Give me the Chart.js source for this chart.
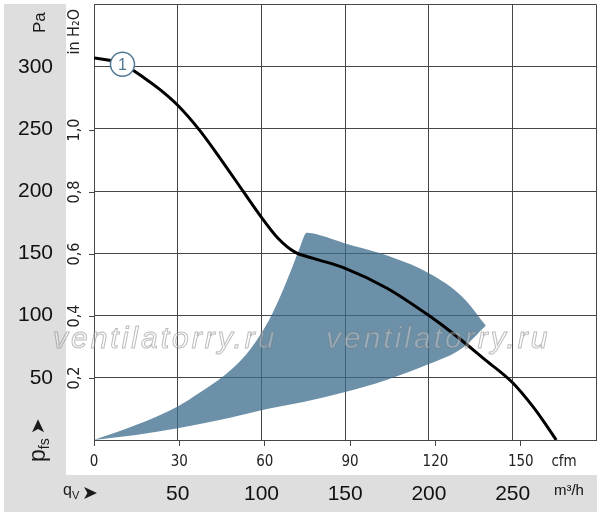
<!DOCTYPE html>
<html lang="en">
<head>
<meta charset="UTF-8">
<title>Fan curve</title>
<script src="https://cdn.jsdelivr.net/npm/chart.js@4.4.1/dist/chart.umd.min.js"></script>
<style>
  html, body { margin: 0; padding: 0; background: #fff; }
</style>
</head>
<body>
<canvas id="chart" width="600" height="516"></canvas>
<script>
// characteristic curve 1: flow (m³/h) -> static pressure (Pa)
const curveFlow = [0, 10, 17, 30, 40, 50, 63, 75, 89, 100, 110, 120, 131, 150, 175, 200, 215, 234, 250, 262, 269, 276];
const curvePa   = [307, 305, 302, 291, 281, 269, 249, 227, 200, 179, 162, 151, 146, 138, 122, 100, 85, 64, 46, 27, 14, 0];

// shaded operating zone: upper and lower edge
const zoneTopFlow    = [0, 25, 50, 63, 77, 91, 104, 113, 119, 123, 127, 135, 150, 171, 200, 220, 234];
const zoneTopPa      = [0, 12, 27, 38, 51, 69, 95, 121, 141, 155, 166.5, 164.5, 158, 150, 134, 115, 92];
const zoneBottomFlow = [0, 25, 50, 75, 100, 125, 150, 175, 200, 220, 234];
const zoneBottomPa   = [0, 4, 9.5, 16, 24, 30.5, 38.5, 48.5, 61, 74, 92];

// curve number marker
const markerFlow = [17];
const markerPa   = [302];
const markerText = ['1'];

// tick labels
const paTicks   = [50, 100, 150, 200, 250, 300];
const m3hTicks  = [50, 100, 150, 200, 250];
const cfmTicks  = [0, 30, 60, 90, 120, 150];
const inchTicks = [0.2, 0.4, 0.6, 0.8, 1.0];

const PA_MAX = 350, FLOW_MAX = 300;
const PA_PER_INCH = 249.09, M3H_PER_CFM = 1.699;
const UNIT_M3H = 283.6, UNIT_CFM = 165.2, UNIT_INCH = 1.317;

const SANS = '"Liberation Sans", Arial, sans-serif';
const NARROW = '"DejaVu Sans Condensed", "Liberation Sans", sans-serif';
const GRID = '#474747';
const NONE = 'rgba(0,0,0,0)';

const pts = (xs, ys) => xs.map((x, i) => ({ x, y: ys[i] }));

function fixSize(prop, size) {
    return s => {
        s[prop] = size;
        s.paddingTop = s.paddingBottom = s.paddingLeft = s.paddingRight = 0;
    };
}

function rotText(ctx, x, y, parts) {
    ctx.save();
    ctx.translate(x, y);
    ctx.rotate(-Math.PI / 2);
    let cx = 0;
    for (const p of parts) {
        ctx.font = p.font;
        ctx.fillText(p.text, cx, p.dy || 0);
        cx += ctx.measureText(p.text).width + (p.gap || 0);
    }
    ctx.restore();
}

const decor = {
    id: 'decor',
    beforeDraw(chart) {
        const ctx = chart.ctx;
        const y = chart.scales.y, x = chart.scales.x;
        ctx.save();
        ctx.fillStyle = '#fff';
        ctx.fillRect(0, 0, chart.width, chart.height);
        ctx.fillStyle = '#dedede';
        ctx.fillRect(4, 4, y.right - 4, x.top - 4);
        ctx.fillRect(4, x.top, chart.width - 7, x.bottom - x.top);
        ctx.restore();
    },
    afterDatasetsDraw(chart) {
        const ctx = chart.ctx;
        ctx.save();
        // watermark
        ctx.font = 'italic 30px ' + SANS;
        ctx.letterSpacing = '3px';
        ctx.lineWidth = 1;
        ctx.strokeStyle = 'rgba(120,120,120,0.5)';
        ctx.fillStyle = 'rgba(255,255,255,0.3)';
        for (const wx of [53, 326]) {
            ctx.fillText('ventilatorry.ru', wx, 348);
            ctx.strokeText('ventilatorry.ru', wx, 348);
        }
        ctx.letterSpacing = '0px';
        // curve number
        const el = chart.getDatasetMeta(0).data[0];
        ctx.fillStyle = '#4f7894';
        ctx.font = '16px ' + SANS;
        ctx.textAlign = 'center';
        ctx.textBaseline = 'middle';
        ctx.fillText(markerText[0], el.x, el.y + 1);
        ctx.restore();
    },
    afterDraw(chart) {
        const ctx = chart.ctx;
        ctx.save();
        ctx.fillStyle = '#1a1a1a';
        ctx.textBaseline = 'alphabetic';
        rotText(ctx, 45, 33, [{ text: 'Pa', font: '17px ' + SANS }]);
        rotText(ctx, 45, 462, [
            { text: 'p', font: '23px ' + SANS },
            { text: 'fs', font: '14px ' + SANS, dy: 4, gap: 4 },
            { text: '➤', font: '19px "DejaVu Sans", sans-serif', dy: -1 }
        ]);
        ctx.font = '16px ' + SANS;
        ctx.fillText('q', 63, 495);
        ctx.font = '11px ' + SANS;
        ctx.fillText('V', 72, 499);
        ctx.font = '19px "DejaVu Sans", sans-serif';
        ctx.fillText('➤', 82, 499);
        ctx.restore();
    }
};

new Chart(document.getElementById('chart'), {
    type: 'line',
    data: {
        datasets: [
            {
                type: 'scatter',
                data: pts(markerFlow, markerPa),
                pointRadius: 12,
                pointBackgroundColor: '#fff',
                pointBorderColor: '#4f7894',
                pointBorderWidth: 1.5,
                xAxisID: 'x', yAxisID: 'y'
            },
            {
                data: pts(curveFlow, curvePa),
                borderColor: '#000',
                borderWidth: 3,
                pointRadius: 0,
                cubicInterpolationMode: 'monotone',
                fill: false,
                xAxisID: 'x', yAxisID: 'y'
            },
            {
                data: pts(zoneTopFlow, zoneTopPa),
                borderWidth: 0,
                borderColor: NONE,
                backgroundColor: 'rgba(59,107,139,0.75)',
                pointRadius: 0,
                cubicInterpolationMode: 'monotone',
                fill: '+1',
                xAxisID: 'x', yAxisID: 'y'
            },
            {
                data: pts(zoneBottomFlow, zoneBottomPa),
                borderWidth: 0,
                borderColor: NONE,
                pointRadius: 0,
                cubicInterpolationMode: 'monotone',
                fill: false,
                xAxisID: 'x', yAxisID: 'y'
            }
        ]
    },
    options: {
        responsive: false,
        animation: false,
        devicePixelRatio: 1,
        layout: { autoPadding: false, padding: { left: 0, top: 4.5, right: 3.6, bottom: 4 } },
        plugins: { legend: { display: false }, tooltip: { enabled: false } },
        scales: {
            x: {
                type: 'linear', position: 'bottom', weight: 1, min: 0, max: FLOW_MAX,
                afterBuildTicks: s => { s.ticks = [0].concat(m3hTicks, [UNIT_M3H, FLOW_MAX]).map(v => ({ value: v })); },
                afterFit: fixSize('height', 37),
                grid: { color: c => c.tick && c.tick.value === UNIT_M3H ? NONE : GRID, drawTicks: false },
                border: { display: false },
                ticks: {
                    autoSkip: false, maxRotation: 0, padding: 7, color: '#111',
                    font: c => c.tick && c.tick.value === UNIT_M3H ? { family: SANS, size: 15 } : { family: SANS, size: 21 },
                    callback: v => v === UNIT_M3H ? 'm³/h' : (m3hTicks.includes(v) ? String(v) : '')
                }
            },
            cfm: {
                type: 'linear', position: 'bottom', weight: 0, min: 0, max: FLOW_MAX / M3H_PER_CFM,
                afterBuildTicks: s => { s.ticks = cfmTicks.concat([UNIT_CFM]).map(v => ({ value: v })); },
                afterFit: fixSize('height', 35),
                grid: { drawOnChartArea: false, tickLength: 6, color: GRID, tickColor: c => c.tick && c.tick.value === UNIT_CFM ? NONE : GRID },
                border: { display: true, color: GRID },
                ticks: {
                    autoSkip: false, maxRotation: 0, padding: 7, color: '#222',
                    font: { family: NARROW, size: 15 },
                    callback: v => v === UNIT_CFM ? 'cfm' : String(v)
                }
            },
            y: {
                type: 'linear', position: 'left', weight: 1, min: 0, max: PA_MAX,
                afterBuildTicks: s => { s.ticks = [0].concat(paTicks, [PA_MAX]).map(v => ({ value: v })); },
                afterFit: fixSize('width', 66),
                grid: { color: GRID, drawTicks: false },
                border: { display: false },
                ticks: {
                    padding: 13, color: '#111', font: { family: SANS, size: 21 },
                    callback: v => paTicks.includes(v) ? String(v) : ''
                }
            },
            inch: {
                type: 'linear', position: 'left', weight: 0, min: 0, max: PA_MAX / PA_PER_INCH,
                afterBuildTicks: s => { s.ticks = inchTicks.concat([UNIT_INCH]).map(v => ({ value: v })); },
                afterFit: fixSize('width', 28),
                grid: { drawOnChartArea: false, tickLength: 5, color: GRID, tickColor: c => c.tick && c.tick.value === UNIT_INCH ? NONE : GRID },
                border: { display: true, color: GRID },
                ticks: {
                    minRotation: 90, maxRotation: 90, crossAlign: 'center', padding: -9,
                    color: '#222', font: { family: NARROW, size: 16 },
                    callback: v => v === UNIT_INCH ? 'in H₂O' : v.toFixed(1).replace('.', ',')
                }
            }
        }
    },
    plugins: [decor]
});
</script>
</body>
</html>
